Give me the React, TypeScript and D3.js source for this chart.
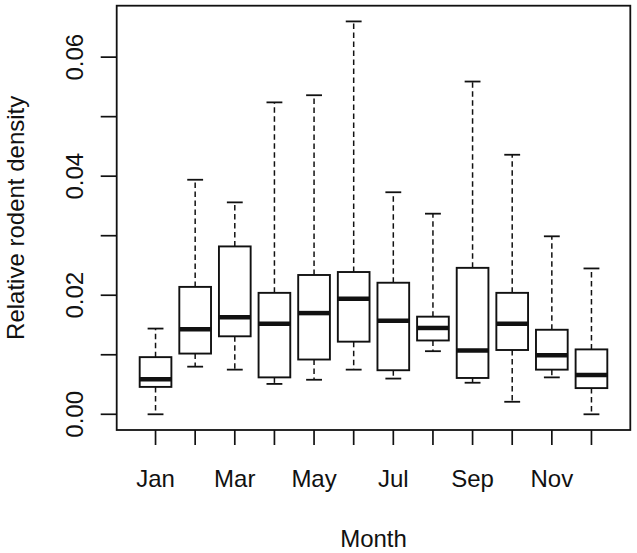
import React from 'react';
import * as d3 from 'd3';

// monthly boxplot stats
const months = ['Jan', 'Feb', 'Mar', 'Apr', 'May', 'Jun', 'Jul', 'Aug', 'Sep', 'Oct', 'Nov', 'Dec'];
const whiskerLow = [0.0, 0.0080, 0.0075, 0.0051, 0.0058, 0.0075, 0.0060, 0.0106, 0.0053, 0.0021, 0.0062, 0.0];
const q1 = [0.0046, 0.0102, 0.0131, 0.0062, 0.0092, 0.0122, 0.0074, 0.0124, 0.0061, 0.0108, 0.0075, 0.0044];
const medians = [0.0059, 0.0143, 0.0163, 0.0152, 0.0170, 0.0194, 0.0157, 0.0145, 0.0107, 0.0152, 0.0099, 0.0066];
const q3 = [0.0096, 0.0214, 0.0282, 0.0204, 0.0234, 0.0239, 0.0221, 0.0164, 0.0246, 0.0204, 0.0142, 0.0109];
const whiskerHigh = [0.0144, 0.0394, 0.0356, 0.0524, 0.0536, 0.0660, 0.0373, 0.0337, 0.0559, 0.0436, 0.0299, 0.0245];
const yTicks = [0, 0.01, 0.02, 0.03, 0.04, 0.05, 0.06];
const yLabels = ['0.00', '0.02', '0.04', '0.06'];
const xLabelled = ['Jan', 'Mar', 'May', 'Jul', 'Sep', 'Nov'];

const W = 637, H = 553;
const plot = { left: 116.7, right: 630.3, top: 5.7, bottom: 430 };
const font = '"Liberation Sans", Arial, sans-serif';
const ink = '#111';

export default function App() {
  // R style 4% padding on both axes
  const n = months.length;
  const xPad = n * 0.04;
  const x = d3.scaleLinear().domain([0.5 - xPad, n + 0.5 + xPad]).range([plot.left, plot.right]);
  const yMin = d3.min(whiskerLow) as number;
  const yMax = d3.max(whiskerHigh) as number;
  const yPad = (yMax - yMin) * 0.04;
  const y = d3.scaleLinear().domain([yMin - yPad, yMax + yPad]).range([plot.bottom, plot.top]);

  const step = x(2) - x(1);
  const boxW = step * 0.8;
  const capW = boxW * 0.5;

  return (
    <svg width={W} height={H} style={{ position: 'absolute', left: 0, top: 0, background: '#fff' }}>
      <rect x={0} y={0} width={W} height={H} fill="#fff" />

      {/* boxes */}
      {months.map((m, i) => {
        const cx = x(i + 1);
        return (
          <g key={m}>
            <line x1={cx} x2={cx} y1={y(q3[i])} y2={y(whiskerHigh[i])} stroke={ink} strokeWidth={1.5} strokeDasharray="5.5,3.5" />
            <line x1={cx} x2={cx} y1={y(q1[i])} y2={y(whiskerLow[i])} stroke={ink} strokeWidth={1.5} strokeDasharray="5.5,3.5" />
            <line x1={cx - capW / 2} x2={cx + capW / 2} y1={y(whiskerHigh[i])} y2={y(whiskerHigh[i])} stroke={ink} strokeWidth={1.8} />
            <line x1={cx - capW / 2} x2={cx + capW / 2} y1={y(whiskerLow[i])} y2={y(whiskerLow[i])} stroke={ink} strokeWidth={1.8} />
            <rect x={cx - boxW / 2} y={y(q3[i])} width={boxW} height={y(q1[i]) - y(q3[i])} fill="#fff" stroke={ink} strokeWidth={1.9} />
            <line x1={cx - boxW / 2} x2={cx + boxW / 2} y1={y(medians[i])} y2={y(medians[i])} stroke={ink} strokeWidth={4.5} />
          </g>
        );
      })}

      {/* frame */}
      <rect x={plot.left} y={plot.top} width={plot.right - plot.left} height={plot.bottom - plot.top} fill="none" stroke={ink} strokeWidth={1.8} />

      {/* y axis */}
      {yTicks.map((t) => (
        <line key={t} x1={plot.left - 16} x2={plot.left} y1={y(t)} y2={y(t)} stroke={ink} strokeWidth={1.7} />
      ))}
      {yLabels.map((l) => (
        <text key={l} transform={`translate(83,${y(+l)}) rotate(-90)`} textAnchor="middle"
          fontFamily={font} fontSize={24} fill={ink}>{l}</text>
      ))}
      <text transform={`translate(24,${(plot.top + plot.bottom) / 2}) rotate(-90)`} textAnchor="middle"
        fontFamily={font} fontSize={24} fill={ink}>Relative rodent density</text>

      {/* x axis */}
      {months.map((m, i) => (
        <line key={m} x1={x(i + 1)} x2={x(i + 1)} y1={plot.bottom} y2={plot.bottom + 15} stroke={ink} strokeWidth={1.7} />
      ))}
      {xLabelled.map((m) => (
        <text key={m} x={x(months.indexOf(m) + 1)} y={487} textAnchor="middle"
          fontFamily={font} fontSize={24} fill={ink}>{m}</text>
      ))}
      <text x={(plot.left + plot.right) / 2} y={547} textAnchor="middle" fontFamily={font} fontSize={24} fill={ink}>Month</text>
    </svg>
  );
}
